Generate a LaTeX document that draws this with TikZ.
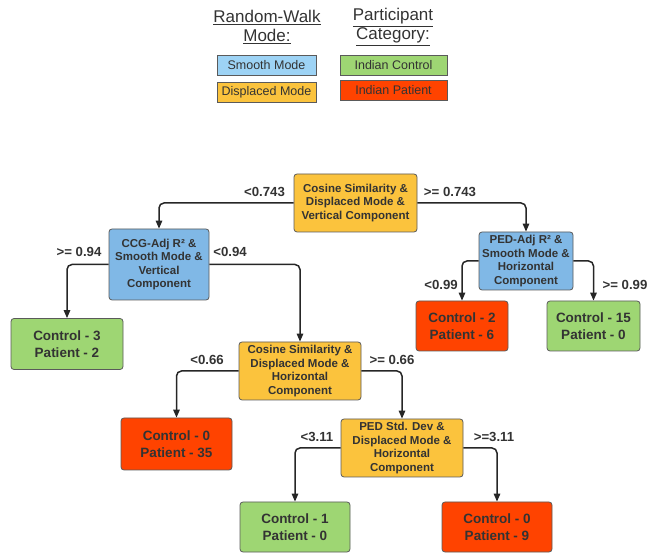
\documentclass[tikz,border=0pt]{standalone}
\usepackage{fontspec}
\setmainfont{Liberation Sans}
\usetikzlibrary{arrows.meta}
\definecolor{txt}{HTML}{333333}
\definecolor{orng}{HTML}{FBC33D}
\definecolor{blu}{HTML}{80B8E6}
\definecolor{lblu}{HTML}{9DD3F5}
\definecolor{grn}{HTML}{9ED673}
\definecolor{rd}{HTML}{FF4300}
\definecolor{edge}{HTML}{5A5A5A}
\tikzset{
  box/.style={draw=edge, line width=0.8pt, rounded corners=3pt, align=center, text=txt, inner sep=1pt},
  dec/.style={box, font=\bfseries\fontsize{11.5}{13.5}\selectfont},
  leaf/.style={box, font=\bfseries\fontsize{13.5}{16.5}\selectfont, minimum height=51pt},
  leg/.style={draw=edge, line width=0.8pt, text=txt, font=\fontsize{12.5}{14}\selectfont, minimum height=20pt, inner sep=1pt},
  hdr/.style={text=txt, font=\fontsize{17}{20}\selectfont, align=center},
  lab/.style={text=txt, font=\bfseries\fontsize{13.2}{15}\selectfont},
  arr/.style={draw=black!85, line width=1.5pt, rounded corners=5pt, -{Triangle[length=8pt,width=6.5pt]}}
}
\begin{document}
\begin{tikzpicture}[x=1pt,y=-1pt]
\useasboundingbox (0,0) rectangle (649,556);
% legend
\node[hdr] (h1) at (267,27) {\underline{Random-Walk}\\[-1pt]\underline{Mode:}};
\node[hdr] (h2) at (393,27) {\underline{Participant}\\[-1pt]\underline{Category:}};
\node[leg, fill=lblu, minimum width=99pt] (l1) at (266.5,65) {Smooth Mode};
\node[leg, fill=orng, minimum width=99pt] (l2) at (266.5,92) {Displaced Mode};
\node[leg, fill=grn, minimum width=107pt] (l3) at (393.5,65) {Indian Control};
\node[leg, fill=rd, minimum width=107pt] (l4) at (393.5,90) {Indian Patient};
% decision nodes
\node[dec, fill=orng, minimum width=123pt, minimum height=58pt] (root) at (355.5,203) {Cosine Similarity \&\\Displaced Mode \&\\Vertical Component};
\node[dec, fill=blu, minimum width=100pt, minimum height=71pt] (ccg) at (159,264.5) {CCG-Adj R² \&\\Smooth Mode \&\\Vertical\\Component};
\node[dec, fill=blu, minimum width=94pt, minimum height=58pt] (ped) at (526,261) {PED-Adj R² \&\\Smooth Mode \&\\Horizontal\\Component};
\node[dec, fill=orng, minimum width=122pt, minimum height=58pt] (cos) at (300,371) {Cosine Similarity \&\\Displaced Mode \&\\Horizontal\\Component};
\node[dec, fill=orng, minimum width=122pt, minimum height=58pt] (pstd) at (402,448) {PED Std. Dev \&\\Displaced Mode \&\\Horizontal\\Component};
% leaves
\node[leaf, fill=grn, minimum width=112pt] (c3) at (67,344) {Control - 3\\Patient - 2};
\node[leaf, fill=rd, minimum width=92pt, minimum height=50pt] (c2) at (462,326) {Control - 2\\Patient - 6};
\node[leaf, fill=grn, minimum width=93pt, minimum height=50pt] (c15) at (593.5,326) {Control - 15\\Patient - 0};
\node[leaf, fill=rd, minimum width=111pt, minimum height=52pt] (c0a) at (176.5,444) {Control - 0\\Patient - 35};
\node[leaf, fill=grn, minimum width=110pt, minimum height=50pt] (c1) at (295,527) {Control - 1\\Patient - 0};
\node[leaf, fill=rd, minimum width=110pt, minimum height=50pt] (c0b) at (497,527) {Control - 0\\Patient - 9};
% connectors
\draw[arr] (root.west) -| (ccg.north);
\draw[arr] (root.east) -| (ped.north);
\draw[arr] (ccg.west) -| (c3.north);
\draw[arr] (ccg.east) -| (cos.north);
\draw[arr] (ped.west) -| (c2.north);
\draw[arr] (ped.east) -| (c15.north);
\draw[arr] (cos.west) -| (c0a.north);
\draw[arr] (cos.east) -| (pstd.north);
\draw[arr] (pstd.west) -| (c1.north);
\draw[arr] (pstd.east) -| (c0b.north);
% labels
\node[lab] (t1) at (264.5,192) {<0.743};
\node[lab] (t2) at (450,192) {>= 0.743};
\node[lab] (t3) at (79,252) {>= 0.94};
\node[lab] (t4) at (230,252) {<0.94};
\node[lab] (t5) at (441,285) {<0.99};
\node[lab] (t6) at (625,285) {>= 0.99};
\node[lab] (t7) at (207,360) {<0.66};
\node[lab] (t8) at (392,360) {>= 0.66};
\node[lab] (t9) at (317,437) {<3.11};
\node[lab] (t10) at (494,437) {>=3.11};
\end{tikzpicture}
\end{document}
